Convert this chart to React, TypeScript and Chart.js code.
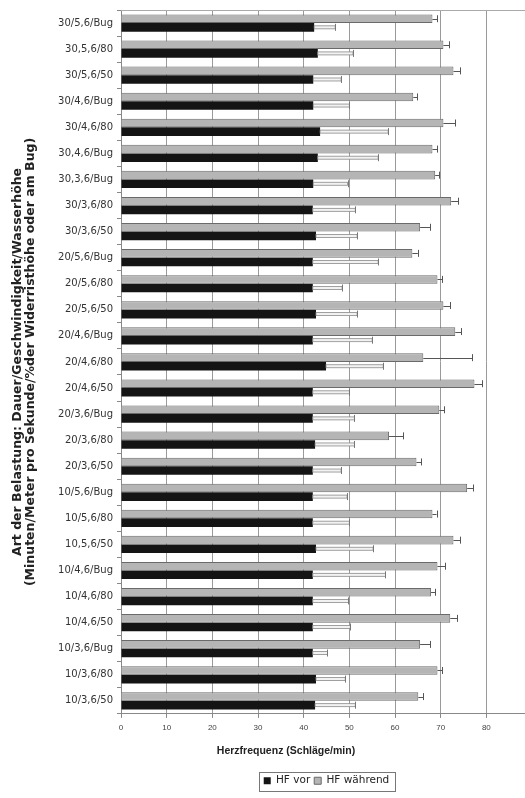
import React, { useEffect, useRef } from "react";
import { Chart, registerables } from "chart.js";

Chart.register(...registerables);

const categories = [
  "30/5,6/Bug", "30,5,6/80", "30/5,6/50",
  "30/4,6/Bug", "30/4,6/80", "30,4,6/Bug",
  "30,3,6/Bug", "30/3,6/80", "30/3,6/50",
  "20/5,6/Bug", "20/5,6/80", "20/5,6/50",
  "20/4,6/Bug", "20/4,6/80", "20/4,6/50",
  "20/3,6/Bug", "20/3,6/80", "20/3,6/50",
  "10/5,6/Bug", "10/5,6/80", "10,5,6/50",
  "10/4,6/Bug", "10/4,6/80", "10/4,6/50",
  "10/3,6/Bug", "10/3,6/80", "10/3,6/50",
];

const hfWaehrend = [
  68.2, 70.6, 72.8, 64.0, 70.6, 68.2, 68.8, 72.3, 65.5,
  63.8, 69.3, 70.6, 73.2, 66.2, 77.4, 69.7, 58.7, 64.7,
  75.8, 68.2, 72.8, 69.3, 67.9, 72.1, 65.5, 69.3, 65.1,
];
const hfWaehrendSD = [
  1.1, 1.3, 1.5, 0.9, 2.6, 1.0, 0.9, 1.6, 2.2,
  1.2, 1.1, 1.5, 1.3, 10.7, 1.7, 1.1, 3.1, 1.1,
  1.3, 0.9, 1.5, 1.7, 0.9, 1.5, 2.2, 1.1, 1.1,
];
const hfVor = [
  42.3, 43.1, 42.1, 42.1, 43.6, 43.1, 42.1, 42.0, 42.7,
  42.0, 42.0, 42.7, 42.0, 44.9, 42.0, 42.0, 42.5, 42.0,
  42.0, 42.0, 42.7, 42.0, 42.0, 42.0, 42.0, 42.7, 42.5,
];
const hfVorSD = [
  4.6, 7.7, 6.1, 7.9, 14.9, 13.2, 7.5, 9.3, 9.0,
  14.3, 6.4, 9.0, 13.0, 12.5, 8.0, 9.1, 8.6, 6.2,
  7.5, 8.0, 12.5, 15.9, 7.8, 8.2, 3.2, 6.4, 8.8,
];

const xTitle = "Herzfrequenz (Schläge/min)";
const yTitle = [
  "Art der Belastung: Dauer/Geschwindigkeit/Wasserhöhe",
  "(Minuten/Meter pro Sekunde/%der Widerristhöhe oder am Bug)",
];
const seriesNames = ["HF während", "HF vor"];

const errorBarPlugin = {
  id: "errorBars",
  afterDatasetsDraw(chart: any) {
    const ctx = chart.ctx;
    const xScale = chart.scales.x;
    chart.data.datasets.forEach((ds: any, di: number) => {
      const meta = chart.getDatasetMeta(di);
      if (meta.hidden) return;
      meta.data.forEach((bar: any, i: number) => {
        const { x, y } = bar.getProps(["x", "y"], true);
        const xe = xScale.getPixelForValue(ds.data[i] + ds.errors[i]);
        ctx.save();
        if (di === 0) {
          ctx.strokeStyle = "#555";
          ctx.lineWidth = 1;
          ctx.beginPath();
          ctx.moveTo(x, Math.round(y) + 0.5);
          ctx.lineTo(xe, Math.round(y) + 0.5);
          ctx.stroke();
        } else {
          ctx.fillStyle = "#f2f2f2";
          ctx.fillRect(x, y - 1.5, xe - x, 3);
          ctx.strokeStyle = "#8a8a8a";
          ctx.lineWidth = 0.8;
          ctx.strokeRect(x, y - 1.5, xe - x, 3);
        }
        ctx.strokeStyle = di === 0 ? "#555" : "#777";
        ctx.lineWidth = 1;
        ctx.beginPath();
        ctx.moveTo(Math.round(xe) + 0.5, y - 3.5);
        ctx.lineTo(Math.round(xe) + 0.5, y + 3.5);
        ctx.stroke();
        ctx.restore();
      });
    });
  },
};

const framePlugin = {
  id: "frame",
  afterDraw(chart: any) {
    const ctx = chart.ctx;
    const a = chart.chartArea;
    ctx.save();
    ctx.strokeStyle = "#aaa";
    ctx.lineWidth = 1;
    ctx.beginPath();
    ctx.moveTo(a.left, Math.round(a.top) + 0.5);
    ctx.lineTo(a.right, Math.round(a.top) + 0.5);
    ctx.stroke();
    const lg = chart.legend;
    if (lg && lg.legendHitBoxes && lg.legendHitBoxes.length) {
      const hb = lg.legendHitBoxes;
      const l = Math.min(...hb.map((h: any) => h.left));
      const r = Math.max(...hb.map((h: any) => h.left + h.width));
      const t = Math.min(...hb.map((h: any) => h.top));
      const b = Math.max(...hb.map((h: any) => h.top + h.height));
      ctx.strokeStyle = "#777";
      ctx.strokeRect(Math.round(l - 5) + 0.5, Math.round(t - 4) + 0.5, Math.round(r - l + 10), Math.round(b - t + 8));
    }
    ctx.restore();
  },
};

export default function App() {
  const ref = useRef<HTMLCanvasElement | null>(null);
  useEffect(() => {
    if (!ref.current) return;
    const chart = new Chart(ref.current, {
      type: "bar",
      data: {
        labels: categories,
        datasets: [
          {
            label: seriesNames[0],
            data: hfWaehrend,
            errors: hfWaehrendSD,
            backgroundColor: "#b5b5b5",
            borderColor: "#6a6a6a",
            borderWidth: 1,
          } as any,
          {
            label: seriesNames[1],
            data: hfVor,
            errors: hfVorSD,
            backgroundColor: "#141414",
            borderColor: "#141414",
            borderWidth: 0,
          } as any,
        ],
      },
      options: {
        indexAxis: "y",
        responsive: false,
        animation: false,
        events: [],
        barPercentage: 1,
        categoryPercentage: 0.66,
        layout: { padding: { top: 8, left: 0, right: 0, bottom: 2 } },
        scales: {
          x: {
            type: "linear",
            min: 0,
            max: 90,
            ticks: {
              stepSize: 10,
              padding: 5,
              color: "#444",
              font: { family: "Liberation Sans", size: 8 },
            },
            grid: { color: "#9a9a9a", lineWidth: 1, tickLength: 4, tickColor: "#888" },
            border: { color: "#888" },
            afterFit(scale: any) {
              scale.paddingRight = 40;
              scale.height = 19;
            },
          },
          y: {
            type: "category",
            ticks: {
              padding: 4,
              color: "#333",
              font: { family: "DejaVu Sans", size: 10 },
              autoSkip: false,
            },
            grid: {
              offset: true,
              drawOnChartArea: false,
              drawTicks: true,
              tickLength: 4,
              color: "#888",
            },
            border: { color: "#888" },
            title: {
              display: true,
              text: yTitle,
              color: "#222",
              font: { family: "DejaVu Sans", size: 12.5, weight: "bold", lineHeight: 1.05 },
              padding: { top: 11, bottom: 0 },
            },
            afterFit(scale: any) {
              scale.width = 121;
            },
          },
        },
        plugins: {
          legend: {
            display: true,
            position: "bottom",
            reverse: true,
            fullSize: false,
            labels: {
              boxWidth: 7,
              boxHeight: 7,
              padding: 4,
              color: "#222",
              font: { family: "DejaVu Sans", size: 10.5 },
            },
          },
          title: {
            display: true,
            text: xTitle,
            position: "bottom",
            fullSize: true,
            weight: 500,
            color: "#222",
            font: { family: "Liberation Sans", size: 10.5, weight: "bold" },
            padding: { top: 12, bottom: 14 },
          } as any,
          tooltip: { enabled: false },
        },
      } as any,
      plugins: [errorBarPlugin, framePlugin],
    });
    return () => chart.destroy();
  }, []);

  return (
    <div
      style={{
        position: "fixed",
        left: 0,
        top: 0,
        width: 525,
        height: 798,
        overflow: "hidden",
        background: "#fff",
      }}
    >
      <canvas ref={ref} width={572} height={798} style={{ width: 572, height: 798, display: "block" }} />
    </div>
  );
}
